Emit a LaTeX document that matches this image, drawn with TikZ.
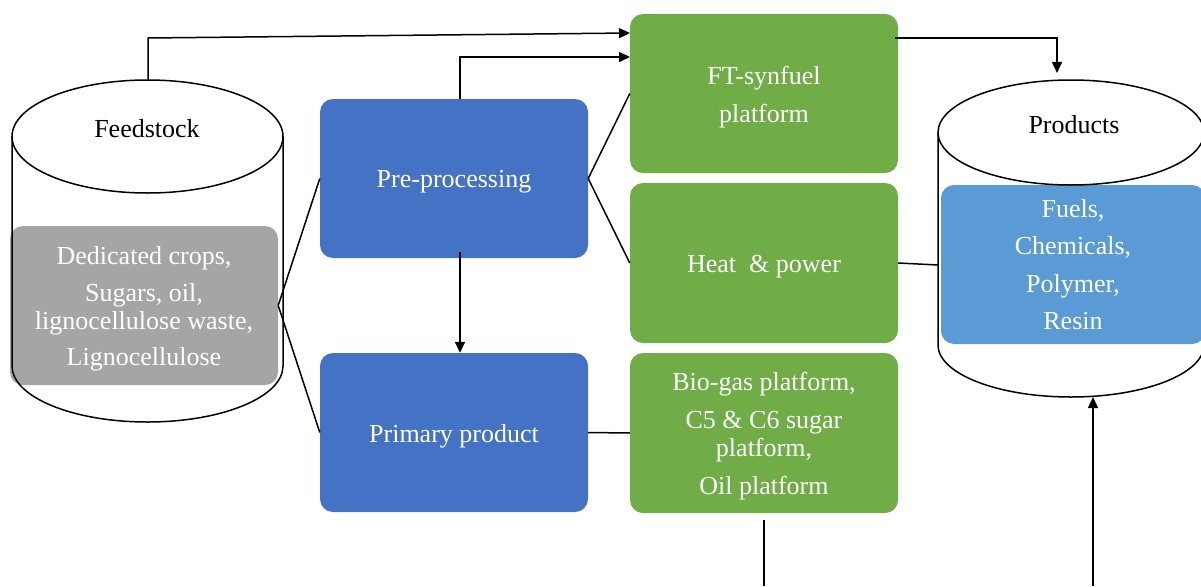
\documentclass[tikz,border=0pt]{standalone}
\usepackage{fontspec}
\setmainfont{Liberation Serif}
\usetikzlibrary{arrows.meta,calc}
\definecolor{blueA}{HTML}{4472C4}
\definecolor{greenA}{HTML}{70AD47}
\definecolor{grayA}{HTML}{A5A5A5}
\definecolor{blueB}{HTML}{5B9BD5}
\begin{document}
\begin{tikzpicture}[x=1pt,y=-1pt,
  box/.style={rounded corners=13pt, minimum width=268pt, minimum height=159pt, inner sep=0pt},
  txt/.style={text=white, align=center, inner sep=0pt, font=\fontsize{26}{28}\selectfont},
  lbl/.style={text=black, inner sep=0pt, font=\fontsize{26}{28}\selectfont},
  ln/.style={line width=1.5pt, black},
  arr/.style={ln, -{Triangle[length=11pt,width=10pt]}},
  cyl/.style={line width=1.5pt, black}]
\useasboundingbox (0,0) rectangle (1201,586);
% Feedstock cylinder
\node[box, fill=grayA] (gray) at (144,305.5) {};
\node[txt] (graytext) at ($(gray.center)+(0,3.5)$) {Dedicated crops,\\[9pt]Sugars, oil,\\lignocellulose waste,\\[8pt]Lignocellulose};
\draw[cyl] (147.5,136.5) ellipse [x radius=135.5pt, y radius=56.5pt];
\draw[cyl] (12,136.5) -- (12,366) arc[start angle=180, end angle=360, x radius=135.5pt, y radius=56pt] -- (283,136.5);
\node[lbl] (feedlabel) at (147,129) {Feedstock};
\coordinate (feedtop) at (148,80);
\coordinate (feedbend) at (148,38);
% Products cylinder
\node[box, fill=blueB, minimum width=264pt] (prodbox) at (1073,264.5) {};
\node[txt] (prodtext) at (prodbox.center) {Fuels,\\[9.5pt]Chemicals,\\[9.5pt]Polymer,\\[9.5pt]Resin};
\draw[cyl] (1071,132.5) ellipse [x radius=133pt, y radius=52.5pt];
\draw[cyl] (938,132.5) -- (938,345) arc[start angle=180, end angle=360, x radius=133pt, y radius=52pt] -- (1204,132.5);
\node[lbl] (prodlabel) at (1074,125) {Products};
\coordinate (prodleft) at (938,265);
\coordinate (prodtopin) at (1057,73);
\coordinate (prodbot) at (1093,397);
\coordinate (inB) at (1093,586);
% Blue boxes
\node[box, fill=blueA] (pre) at (454,178.5) {};
\node[txt] (pretext) at ($(pre.center)+(0,3.5)$) {Pre-processing};
\node[box, fill=blueA] (prim) at (454,432.5) {};
\node[txt] (primtext) at ($(prim.center)+(0,3.5)$) {Primary product};
% Green boxes
\node[box, fill=greenA] (ft) at (764,93.5) {};
\node[txt] (fttext) at ($(ft.center)+(0,3.5)$) {FT-synfuel\\[10pt]platform};
\node[box, fill=greenA, minimum height=160pt] (heat) at (764,263) {};
\node[txt] (heattext) at ($(heat.center)+(0,4)$) {Heat\ \ \& power};
\node[box, fill=greenA, minimum height=160pt] (bio) at (764,433) {};
\node[txt] (biotext) at ($(bio.center)+(0,3.5)$) {Bio-gas platform,\\[10pt]C5 \& C6 sugar\\platform,\\[10pt]Oil platform};
\coordinate (ftinA) at (630,33);
\coordinate (ftinB) at (630,57);
\coordinate (ftout) at (895,38);
\coordinate (bioend) at (764,586);
% Connectors
\draw[arr] (feedtop) -- (feedbend) -- (ftinA);
\draw[arr] ($(pre.north)+(6,0)$) |- (ftinB);
\draw[ln] (gray.east) -- (pre.west);
\draw[ln] (gray.east) -- (prim.west);
\draw[ln] (pre.east) -- (ft.west);
\draw[ln] (pre.east) -- (heat.west);
\draw[arr] ($(pre.south)+(6,-6)$) -- ($(prim.north)+(6,0)$);
\draw[ln] (prim.east) -- (bio.west);
\draw[ln] (heat.east) -- (prodleft);
\draw[arr] (ftout) -| (prodtopin);
\draw[ln] ($(bio.south)+(0,7)$) -- (bioend);
\draw[arr] (inB) -- (prodbot);
\end{tikzpicture}
\end{document}
